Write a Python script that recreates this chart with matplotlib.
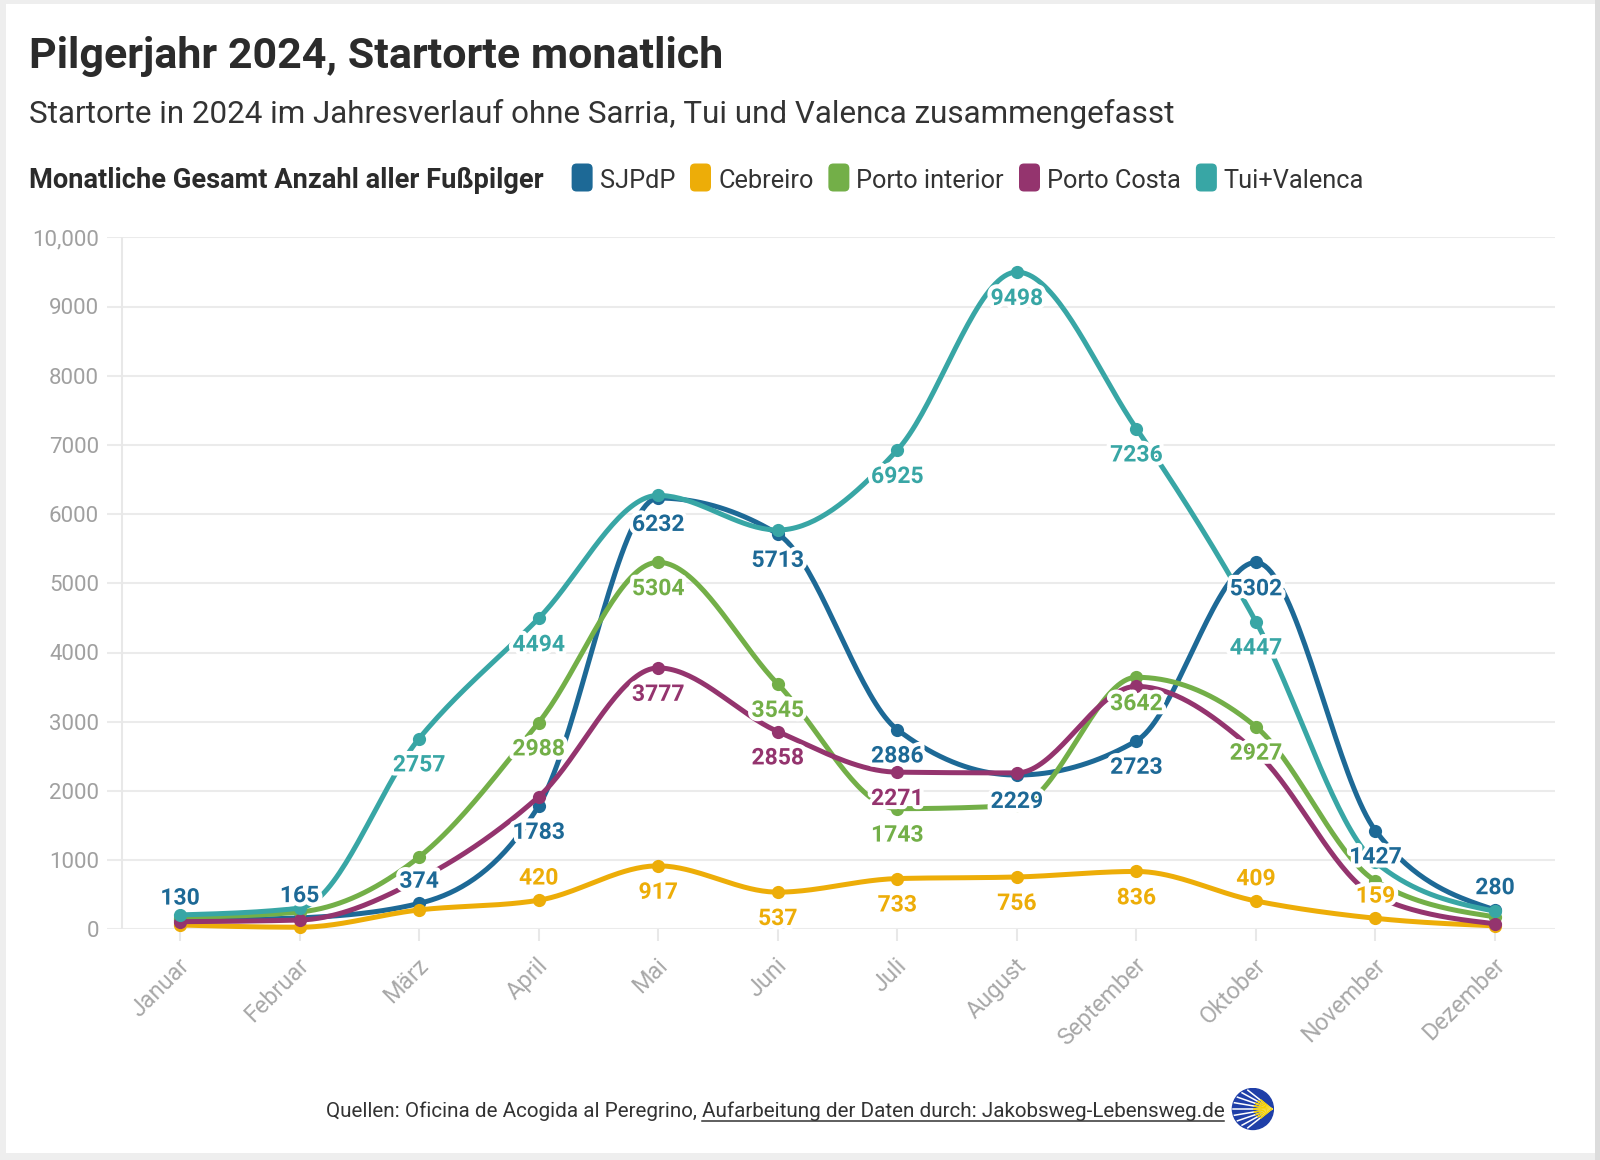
import numpy as np
import matplotlib
matplotlib.use("Agg")
import matplotlib.pyplot as plt
from matplotlib import patheffects as pe
from matplotlib.patches import FancyBboxPatch, Circle, Rectangle
from matplotlib.lines import Line2D
from matplotlib.transforms import ScaledTranslation, IdentityTransform

plt.rcParams['font.family'] = ['Roboto', 'DejaVu Sans']

# ---------------- data ----------------
months = ['Januar', 'Februar', 'März', 'April', 'Mai', 'Juni', 'Juli',
          'August', 'September', 'Oktober', 'November', 'Dezember']
series_names = ['SJPdP', 'Cebreiro', 'Porto interior', 'Porto Costa', 'Tui+Valenca']
sjpdp = [130, 165, 374, 1783, 6232, 5713, 2886, 2229, 2723, 5302, 1427, 280]
cebreiro = [62, 30, 280, 420, 917, 537, 733, 756, 836, 409, 159, 50]
porto_interior = [170, 250, 1045, 2988, 5304, 3545, 1743, 1790, 3642, 2927, 700, 180]
porto_costa = [110, 134, 720, 1915, 3777, 2858, 2271, 2260, 3510, 2560, 480, 80]
tui_valenca = [208, 306, 2757, 4494, 6270, 5770, 6925, 9498, 7236, 4447, 970, 260]
yticks = [0, 1000, 2000, 3000, 4000, 5000, 6000, 7000, 8000, 9000, 10000]
ytick_labels = ['0', '1000', '2000', '3000', '4000', '5000', '6000', '7000',
                '8000', '9000', '10,000']

# which data labels are shown (month index, above/below)
shown_labels = {
    'SJPdP': [(0, 'a'), (1, 'a'), (2, 'a'), (3, 'b'), (4, 'b'), (5, 'b'), (6, 'b'),
              (7, 'b'), (8, 'b'), (9, 'b'), (10, 'b'), (11, 'a')],
    'Cebreiro': [(3, 'a'), (4, 'b'), (5, 'b'), (6, 'b'), (7, 'b'), (8, 'b'), (9, 'a'), (10, 'a')],
    'Porto interior': [(3, 'b'), (4, 'b'), (5, 'b'), (6, 'b'), (8, 'b'), (9, 'b')],
    'Porto Costa': [(4, 'b'), (5, 'b'), (6, 'b')],
    'Tui+Valenca': [(2, 'b'), (3, 'b'), (6, 'b'), (7, 'b'), (8, 'b'), (9, 'b')],
}
colors = {'SJPdP': '#1D6996', 'Cebreiro': '#EDAD08', 'Porto interior': '#73AF48',
          'Porto Costa': '#94346E', 'Tui+Valenca': '#38A6A5'}
values = {'SJPdP': sjpdp, 'Cebreiro': cebreiro, 'Porto interior': porto_interior,
          'Porto Costa': porto_costa, 'Tui+Valenca': tui_valenca}


def monotone_x(x, y, n=40):
    """d3.curveMonotoneX equivalent."""
    x = np.asarray(x, float)
    y = np.asarray(y, float)
    h = np.diff(x)
    s = np.diff(y) / h
    m = len(x)
    t = np.zeros(m)
    for i in range(1, m - 1):
        h0, h1 = h[i - 1], h[i]
        s0, s1 = s[i - 1], s[i]
        p = (s0 * h1 + s1 * h0) / (h0 + h1)
        t[i] = (np.sign(s0) + np.sign(s1)) * min(abs(s0), abs(s1), 0.5 * abs(p))
    t[0] = (3 * s[0] - t[1]) / 2
    t[-1] = (3 * s[-1] - t[-2]) / 2
    xs, ys = [], []
    u = np.linspace(0, 1, n)
    h00 = 2 * u**3 - 3 * u**2 + 1
    h10 = u**3 - 2 * u**2 + u
    h01 = -2 * u**3 + 3 * u**2
    h11 = u**3 - u**2
    for i in range(m - 1):
        xs.append(x[i] + u * h[i])
        ys.append(h00 * y[i] + h10 * h[i] * t[i] + h01 * y[i + 1] + h11 * h[i] * t[i + 1])
    return np.concatenate(xs), np.concatenate(ys)


W, H = 1600, 1160
fig = plt.figure(figsize=(W / 100, H / 100), dpi=100, facecolor='#eeeeee')

# white card with light grey frame
fig.add_artist(Rectangle((6 / W, 1 - 1153 / H), 1589 / W, (1153 - 4) / H,
                         transform=fig.transFigure, facecolor='white', edgecolor='none', zorder=0))
fig.add_artist(Rectangle((1595 / W, 0), 5 / W, 1, transform=fig.transFigure,
                         facecolor='#dcdcdc', edgecolor='none', zorder=0))

# ---------------- axes ----------------
ax_l, ax_r = 107, 1555
ax_top, ax_bot = 237.3, 929.3
ax = fig.add_axes([ax_l / W, 1 - ax_bot / H, (ax_r - ax_l) / W, (ax_bot - ax_top) / H])
ax.set_facecolor('none')
ax.set_xlim(-0.611, 11.502)
ax.set_ylim(0, 10000)
for sp in ax.spines.values():
    sp.set_visible(False)
ax.set_yticks(yticks)
ax.set_yticklabels(ytick_labels)
ax.yaxis.grid(True, color='#ebebeb', lw=1.5, zorder=0)
ax.set_axisbelow(True)
ax.tick_params(axis='y', length=0, pad=5.8, labelsize=16, labelcolor='#a0a0a0')
x = np.arange(len(months))
ax.set_xticks(x)
ax.set_xticklabels(months, rotation=45, ha='right', va='center', rotation_mode='anchor',
                   fontsize=16.8, color='#a8a8a8')
ax.tick_params(axis='x', length=8.5, width=1.5, color='#e8e8e8', pad=15)
for lab in ax.get_xticklabels():
    lab.set_transform(lab.get_transform() + ScaledTranslation(6 / 100, 0, fig.dpi_scale_trans))
ax.plot([0.01015, 0.01015], [0, 1], transform=ax.transAxes, color='#e8e8e8', lw=1.5, zorder=1)

halo = [pe.withStroke(linewidth=6, foreground='white')]
for k, name in enumerate(series_names):
    c = colors[name]
    v = values[name]
    xs, ys = monotone_x(x, v)
    ax.plot(xs, ys, color=c, lw=3.6, solid_capstyle='round', solid_joinstyle='round',
            clip_on=False, zorder=3 + k)
    ax.plot(x, v, 'o', color=c, ms=9.5, mec='none', clip_on=False, zorder=3 + k)
    for i, pos in shown_labels[name]:
        off = 16 if pos == 'a' else -19
        ax.annotate(str(v[i]), (x[i], v[i]), xytext=(0, off), textcoords='offset points',
                    ha='center', va='center', fontsize=16.5, fontweight='bold', color=c,
                    path_effects=halo, zorder=20, annotation_clip=False)

# ---------------- header ----------------
fig.text(29 / W, 1 - 68 / H, 'Pilgerjahr 2024, Startorte monatlich', fontsize=31,
         fontweight='bold', color='#2b2b2b', va='baseline')
fig.text(29 / W, 1 - 123 / H,
         'Startorte in 2024 im Jahresverlauf ohne Sarria, Tui und Valenca zusammengefasst',
         fontsize=22.6, color='#333333', va='baseline')

renderer = fig.canvas.get_renderer()
leg_base = 1 - 187.5 / H
lt = fig.text(29 / W, leg_base, 'Monatliche Gesamt Anzahl aller Fußpilger', fontsize=19.6,
              fontweight='bold', color='#2b2b2b', va='baseline')
cur = lt.get_window_extent(renderer).x1 + 28
sw_w, sw_h = 21, 28
sw_cy = H - 177.5
for name in series_names:
    fig.add_artist(FancyBboxPatch((cur, sw_cy - sw_h / 2), sw_w, sw_h,
                                  boxstyle='round,pad=0,rounding_size=5',
                                  transform=IdentityTransform(), facecolor=colors[name],
                                  edgecolor='none'))
    t = fig.text((cur + sw_w + 7) / W, leg_base, name, fontsize=18.3, color='#333333',
                 va='baseline')
    cur = t.get_window_extent(renderer).x1 + 15

# ---------------- footer ----------------
foot_base = 1117
f1 = fig.text(0, 1 - foot_base / H, 'Quellen: Oficina de Acogida al Peregrino, ', fontsize=14.85,
              color='#333333', va='baseline')
f2 = fig.text(0, 1 - foot_base / H, 'Aufarbeitung der Daten durch: Jakobsweg-Lebensweg.de',
              fontsize=14.85, color='#333333', va='baseline')
w1 = f1.get_window_extent(renderer).width
w2 = f2.get_window_extent(renderer).width
logo_r = 21.5
total = w1 + w2 + 7 + 2 * logo_r
start = W / 2 - total / 2
f1.set_x(start / W)
f2.set_x((start + w1) / W)
fig.add_artist(Line2D([start + w1, start + w1 + w2], [H - foot_base - 3.5, H - foot_base - 3.5],
                      transform=IdentityTransform(), color='#333333', lw=1.1))

cx = start + w1 + w2 + 7 + logo_r
cy = H - 1109
lax = fig.add_axes([(cx - logo_r) / W, (cy - logo_r) / H, 2 * logo_r / W, 2 * logo_r / H])
lax.set_xlim(-1.05, 1.05)
lax.set_ylim(-1.05, 1.05)
lax.set_aspect('equal')
lax.axis('off')
lax.add_patch(Circle((0, 0), 1.0, color='#1f3fa8'))
for ang in np.linspace(105, 255, 9):
    a = np.deg2rad(ang)
    lax.plot([0.92, 0.95 * np.cos(a)], [0, 0.95 * np.sin(a)], color='white', lw=1.1)
    lax.plot([0.92, 0.92 + 0.45 * (np.cos(a) - 0.92)], [0, 0.45 * np.sin(a)],
             color='#f5d000', lw=1.2)

fig.savefig('out.png', dpi=100, facecolor=fig.get_facecolor())
